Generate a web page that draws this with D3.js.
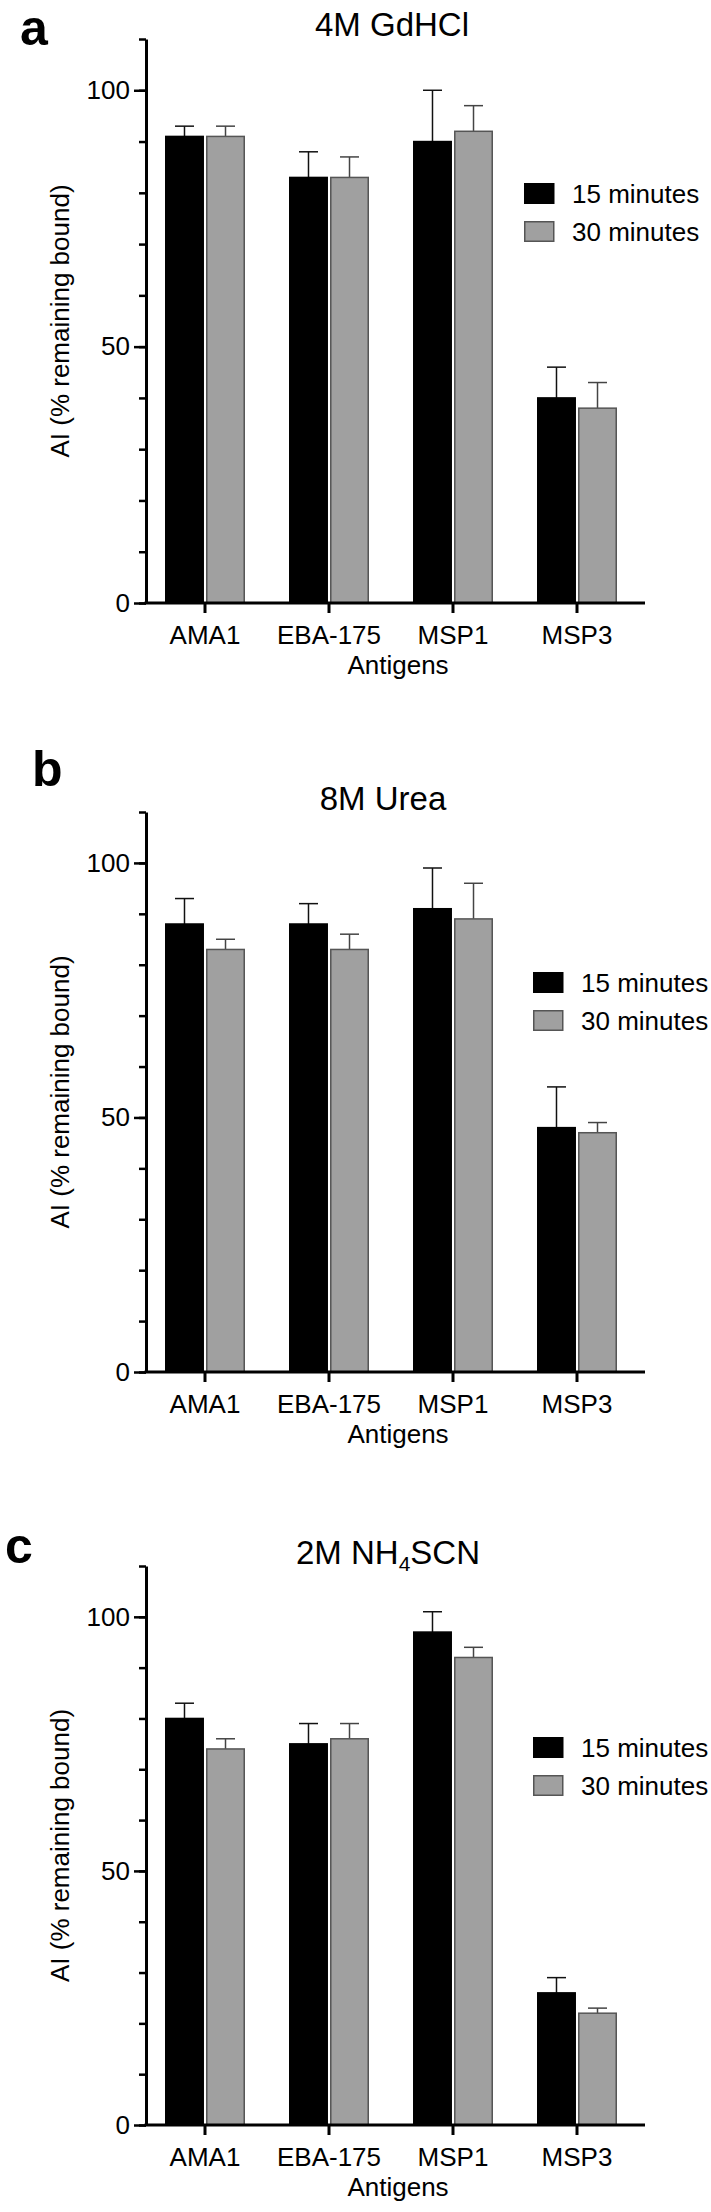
<!DOCTYPE html>
<html>
<head>
<meta charset="utf-8">
<script src="https://cdn.jsdelivr.net/npm/d3@7"></script>
<style>
    body { margin: 0; background: #fff; }
    svg { display: block; font-family: "Liberation Sans", Arial, Helvetica, sans-serif; }
</style>
</head>
<body>
<div id="chart"></div>
<script>
const antigens = ["AMA1", "EBA-175", "MSP1", "MSP3"];
const series = ["15 minutes", "30 minutes"];

// mean and upper error (SD) per antigen
const gdhcl15 = [91, 83, 90, 40];
const gdhcl15Err = [2, 5, 10, 6];
const gdhcl30 = [91, 83, 92, 38];
const gdhcl30Err = [2, 4, 5, 5];

const urea15 = [88, 88, 91, 48];
const urea15Err = [5, 4, 8, 8];
const urea30 = [83, 83, 89, 47];
const urea30Err = [2, 3, 7, 2];

const scn15 = [80, 75, 97, 26];
const scn15Err = [3, 4, 4, 3];
const scn30 = [74, 76, 92, 22];
const scn30Err = [2, 3, 2, 1];

const majorTicks = [0, 50, 100];
const minorTicks = d3.range(0, 111, 10);

const W = 711, H = 2212;
const fills = ["#000000", "#a0a0a0"];
const strokes = ["#000000", "#555555"];
const errColors = ["#111111", "#444444"];

const panels = [
    {letter: "a", letterX: 20, letterY: 45, title: ["4M GdHCl"], titleX: 392, titleY: 36,
     top: 39, bottom: 603, legX: 524, legY: 183,
     values: [gdhcl15, gdhcl30], errors: [gdhcl15Err, gdhcl30Err]},
    {letter: "b", letterX: 32, letterY: 786, title: ["8M Urea"], titleX: 383, titleY: 810,
     top: 812, bottom: 1372, legX: 533, legY: 972,
     values: [urea15, urea30], errors: [urea15Err, urea30Err]},
    {letter: "c", letterX: 5, letterY: 1563, title: ["2M NH", "4", "SCN"], titleX: 388, titleY: 1564,
     top: 1566, bottom: 2125, legX: 533, legY: 1737,
     values: [scn15, scn30], errors: [scn15Err, scn30Err]}
];

const svg = d3.select("#chart").append("svg")
    .attr("width", W)
    .attr("height", H);

const axisX = 146;
const axisEnd = 645;

const x0 = d3.scaleBand()
    .domain(antigens)
    .range([143, 639])
    .paddingInner(0.355)
    .paddingOuter(0.1775);

const x1 = d3.scaleBand()
    .domain(series)
    .range([0, x0.bandwidth()])
    .paddingInner(0.05);

panels.forEach(p => {
    const g = svg.append("g");

    const y = d3.scaleLinear()
        .domain([0, 110])
        .range([p.bottom, p.top]);

    // panel letter
    g.append("text")
        .attr("x", p.letterX)
        .attr("y", p.letterY)
        .attr("font-size", 50)
        .attr("font-weight", "bold")
        .text(p.letter);

    // title
    const title = g.append("text")
        .attr("x", p.titleX)
        .attr("y", p.titleY)
        .attr("text-anchor", "middle")
        .attr("font-size", 33);
    title.append("tspan").text(p.title[0]);
    if (p.title.length > 1) {
        title.append("tspan").attr("font-size", 21).attr("dy", 7).text(p.title[1]);
        title.append("tspan").attr("dy", -7).text(p.title[2]);
    }

    // bars
    const groups = g.selectAll("g.group")
        .data(antigens.map((a, i) => ({
            antigen: a,
            bars: series.map((s, j) => ({series: s, j: j, value: p.values[j][i], err: p.errors[j][i]}))
        })))
        .join("g")
        .attr("class", "group")
        .attr("transform", d => `translate(${x0(d.antigen)},0)`);

    groups.selectAll("line.err")
        .data(d => d.bars)
        .join("line")
        .attr("class", "err")
        .attr("x1", d => x1(d.series) + x1.bandwidth() / 2)
        .attr("x2", d => x1(d.series) + x1.bandwidth() / 2)
        .attr("y1", d => y(d.value))
        .attr("y2", d => y(d.value + d.err))
        .attr("stroke", d => errColors[d.j])
        .attr("stroke-width", 1.5);

    groups.selectAll("line.cap")
        .data(d => d.bars)
        .join("line")
        .attr("class", "cap")
        .attr("x1", d => x1(d.series) + x1.bandwidth() / 2 - 9.5)
        .attr("x2", d => x1(d.series) + x1.bandwidth() / 2 + 9.5)
        .attr("y1", d => y(d.value + d.err))
        .attr("y2", d => y(d.value + d.err))
        .attr("stroke", d => errColors[d.j])
        .attr("stroke-width", 1.5);

    groups.selectAll("rect")
        .data(d => d.bars)
        .join("rect")
        .attr("x", d => x1(d.series) + 0.75)
        .attr("y", d => y(d.value))
        .attr("width", x1.bandwidth() - 1.5)
        .attr("height", d => y(0) - y(d.value))
        .attr("fill", d => fills[d.j])
        .attr("stroke", d => strokes[d.j])
        .attr("stroke-width", 1.5);

    // y axis: minor ticks
    g.append("g")
        .attr("transform", `translate(${axisX},0)`)
        .call(d3.axisLeft(y).tickValues(minorTicks).tickSize(7).tickSizeOuter(0).tickFormat(""))
        .call(a => a.select(".domain").remove())
        .call(a => a.selectAll(".tick line").attr("stroke", "#000").attr("stroke-width", 2.5));

    // y axis: major ticks + labels
    g.append("g")
        .attr("transform", `translate(${axisX},0)`)
        .call(d3.axisLeft(y).tickValues(majorTicks).tickSize(12).tickSizeOuter(0).tickPadding(4))
        .call(a => a.select(".domain").attr("stroke", "#000").attr("stroke-width", 3))
        .call(a => a.selectAll(".tick line").attr("stroke", "#000").attr("stroke-width", 2.5))
        .call(a => a.selectAll(".tick text")
            .attr("font-size", 26)
            .attr("font-family", "Liberation Sans, Arial, sans-serif")
            .attr("fill", "#000"));

    // x axis
    g.append("g")
        .attr("transform", `translate(0,${y(0)})`)
        .call(d3.axisBottom(x0).tickSize(10).tickSizeOuter(0).tickPadding(6))
        .call(a => a.select(".domain").remove())
        .call(a => a.selectAll(".tick line").attr("stroke", "#000").attr("stroke-width", 3))
        .call(a => a.selectAll(".tick text")
            .attr("font-size", 26)
            .attr("font-family", "Liberation Sans, Arial, sans-serif")
            .attr("fill", "#000")
            .attr("dy", "0.95em"));

    g.append("line")
        .attr("x1", axisX - 1.5)
        .attr("x2", axisEnd)
        .attr("y1", y(0))
        .attr("y2", y(0))
        .attr("stroke", "#000")
        .attr("stroke-width", 3);

    // axis titles
    g.append("text")
        .attr("x", 398)
        .attr("y", y(0) + 71)
        .attr("text-anchor", "middle")
        .attr("font-size", 26)
        .text("Antigens");

    g.append("text")
        .attr("transform", `translate(69,${(p.top + p.bottom) / 2}) rotate(-90)`)
        .attr("text-anchor", "middle")
        .attr("font-size", 26)
        .text("AI (% remaining bound)");

    // legend
    const leg = g.append("g")
        .attr("transform", `translate(${p.legX},${p.legY})`);

    leg.selectAll("rect")
        .data(series)
        .join("rect")
        .attr("x", 0.75)
        .attr("y", (d, i) => i * 38 + 0.75)
        .attr("width", 29)
        .attr("height", 19.5)
        .attr("fill", (d, i) => fills[i])
        .attr("stroke", (d, i) => strokes[i])
        .attr("stroke-width", 1.5);

    leg.selectAll("text")
        .data(series)
        .join("text")
        .attr("x", 48)
        .attr("y", (d, i) => i * 38 + 20)
        .attr("font-size", 26)
        .text(d => d);
});
</script>
</body>
</html>
